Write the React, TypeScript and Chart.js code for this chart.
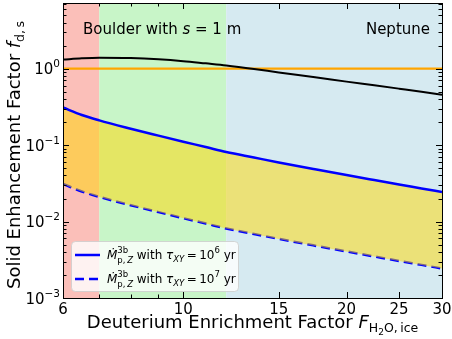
import React, { useEffect, useRef } from 'react';
import { Chart, registerables } from 'chart.js';

Chart.register(...registerables);

// ---------- data ----------
const xValues = [6, 6.5, 7, 8, 9, 10, 11, 12, 13.5, 15, 17.5, 20, 22.5, 25, 27.5, 30];
const totalEnhancement = [1.31, 1.36, 1.385, 1.37, 1.32, 1.25, 1.17, 1.1, 0.99, 0.89, 0.77, 0.675, 0.604, 0.546, 0.498, 0.456];
const unityLine = [1, 1, 1, 1, 1, 1, 1, 1, 1, 1, 1, 1, 1, 1, 1, 1];
const accretionTau6 = [0.31, 0.247, 0.21, 0.1635, 0.1328, 0.1106, 0.0942, 0.081, 0.0687, 0.0593, 0.0483, 0.0406, 0.0349, 0.0305, 0.0271, 0.0243];
const accretionTau7 = [0.031, 0.0247, 0.021, 0.01635, 0.01328, 0.01106, 0.00942, 0.0081, 0.00687, 0.00593, 0.00483, 0.00406, 0.00349, 0.00305, 0.00271, 0.00243];

const xMajorTicks = [6, 10, 15, 20, 25, 30];
const xMinorTicks = [7, 8, 9];
const yMajorExponents = [-3, -2, -1, 0];
const regionBounds = [6, 7, 12, 30];
const regionColors = ['#fbbfb9', '#c8f5c8', '#d6eaf1'];

const FONT = '"DejaVu Sans"';

type Seg = { t?: string; size?: number; italic?: boolean; dy?: number; stack?: Seg[][] };

function setFont(ctx: CanvasRenderingContext2D, s: Seg) {
  ctx.font = `${s.italic ? 'italic ' : ''}${s.size}px ${FONT}`;
}
function runW(ctx: CanvasRenderingContext2D, segs: Seg[]): number {
  return segs.reduce((a, s) => a + segW(ctx, s), 0);
}
function segW(ctx: CanvasRenderingContext2D, s: Seg): number {
  if (s.stack) return Math.max(...s.stack.map((r) => runW(ctx, r)));
  setFont(ctx, s);
  return ctx.measureText(s.t || '').width;
}
function drawRun(ctx: CanvasRenderingContext2D, segs: Seg[], x: number, y: number) {
  let cx = x;
  for (const s of segs) {
    if (s.stack) {
      for (const r of s.stack) drawRun(ctx, r, cx, y);
      cx += segW(ctx, s);
    } else {
      setFont(ctx, s);
      ctx.fillText(s.t || '', cx, y + (s.dy || 0));
      cx += ctx.measureText(s.t || '').width;
    }
  }
}
function drawRich(ctx: CanvasRenderingContext2D, segs: Seg[], x: number, y: number, align: 'left' | 'center' | 'right') {
  const w = runW(ctx, segs);
  const cx = align === 'left' ? x : align === 'center' ? x - w / 2 : x - w;
  ctx.textAlign = 'left';
  ctx.textBaseline = 'alphabetic';
  drawRun(ctx, segs, cx, y);
}

const decorPlugin = {
  id: 'decor',
  beforeDatasetsDraw(chart: any) {
    const { ctx, chartArea: a, scales } = chart;
    const xs = scales.x;
    ctx.save();
    for (let i = 0; i < regionColors.length; i++) {
      const x0 = xs.getPixelForValue(regionBounds[i]);
      const x1 = xs.getPixelForValue(regionBounds[i + 1]);
      ctx.fillStyle = regionColors[i];
      ctx.fillRect(x0, a.top, x1 - x0, a.bottom - a.top);
    }
    ctx.restore();
  },
  afterDraw(chart: any) {
    const { ctx, chartArea: a, scales } = chart;
    const xs = scales.x;
    const ys = scales.y;
    ctx.save();
    ctx.strokeStyle = '#000';
    ctx.fillStyle = '#000';
    ctx.lineWidth = 1;
    const MAJ = 6;
    const MIN = 3.5;
    const tick = (x0: number, y0: number, x1: number, y1: number) => {
      ctx.beginPath();
      ctx.moveTo(x0, y0);
      ctx.lineTo(x1, y1);
      ctx.stroke();
    };
    for (const v of xMajorTicks) {
      const px = Math.round(xs.getPixelForValue(v)) + 0.5;
      tick(px, a.bottom, px, a.bottom - MAJ);
      tick(px, a.top, px, a.top + MAJ);
    }
    for (const v of xMinorTicks) {
      const px = Math.round(xs.getPixelForValue(v)) + 0.5;
      tick(px, a.bottom, px, a.bottom - MIN);
      tick(px, a.top, px, a.top + MIN);
    }
    const ymax = ys.max;
    for (const e of yMajorExponents) {
      const py = Math.round(ys.getPixelForValue(Math.pow(10, e))) + 0.5;
      tick(a.left, py, a.left + MAJ, py);
      tick(a.right, py, a.right - MAJ, py);
      for (let m = 2; m <= 9; m++) {
        const v = m * Math.pow(10, e);
        if (v > ymax) break;
        const pm = Math.round(ys.getPixelForValue(v)) + 0.5;
        tick(a.left, pm, a.left + MIN, pm);
        tick(a.right, pm, a.right - MIN, pm);
      }
    }
    ctx.strokeRect(Math.round(a.left) + 0.5, Math.round(a.top) + 0.5, Math.round(a.right - a.left), Math.round(a.bottom - a.top));

    // x tick labels
    for (const v of xMajorTicks) {
      drawRich(ctx, [{ t: String(v), size: 15 }], xs.getPixelForValue(v), a.bottom + 15.5, 'center');
    }
    // y tick labels
    for (const e of yMajorExponents) {
      const py = ys.getPixelForValue(Math.pow(10, e));
      const ex = e < 0 ? '\u2212' + Math.abs(e) : String(e);
      drawRich(ctx, [{ t: '10', size: 15 }, { t: ex, size: 10.5, dy: -7 }], a.left - 3, py + 5.5, 'right');
    }

    // axis titles
    drawRich(
      ctx,
      [
        { t: 'Deuterium Enrichment Factor ', size: 18 },
        { t: 'F', size: 18, italic: true },
        { t: 'H', size: 12.5, dy: 4 },
        { t: '2', size: 9, dy: 6.5 },
        { t: 'O,\u2009ice', size: 12.5, dy: 4 },
      ],
      (a.left + a.right) / 2,
      328,
      'center'
    );
    ctx.save();
    ctx.translate(20, 155);
    ctx.rotate(-Math.PI / 2);
    drawRich(
      ctx,
      [
        { t: 'Solid Enhancement Factor ', size: 18 },
        { t: 'f', size: 18, italic: true },
        { t: 'd,\u2009s', size: 12.5, dy: 4 },
      ],
      0,
      0,
      'center'
    );
    ctx.restore();

    // region annotations
    drawRich(
      ctx,
      [
        { t: 'Boulder with ', size: 15 },
        { t: 's', size: 15, italic: true },
        { t: ' = 1 m', size: 15 },
      ],
      83,
      34,
      'left'
    );
    drawRich(ctx, [{ t: 'Neptune', size: 15 }], 430, 34, 'right');

    // legend
    const lx = 71.5, ly = 241.5, lw = 167, lh = 50, r = 4;
    ctx.beginPath();
    ctx.moveTo(lx + r, ly);
    ctx.arcTo(lx + lw, ly, lx + lw, ly + lh, r);
    ctx.arcTo(lx + lw, ly + lh, lx, ly + lh, r);
    ctx.arcTo(lx, ly + lh, lx, ly, r);
    ctx.arcTo(lx, ly, lx + lw, ly, r);
    ctx.closePath();
    ctx.fillStyle = 'rgba(255,255,255,0.8)';
    ctx.fill();
    ctx.strokeStyle = 'rgba(204,204,204,0.8)';
    ctx.lineWidth = 1;
    ctx.stroke();

    const rows = [
      { y: 255, dash: [] as number[], exp: '6' },
      { y: 279, dash: [9, 5], exp: '7' },
    ];
    for (const row of rows) {
      ctx.strokeStyle = '#0000ff';
      ctx.lineWidth = 2.5;
      ctx.setLineDash(row.dash);
      ctx.beginPath();
      ctx.moveTo(75, row.y);
      ctx.lineTo(100, row.y);
      ctx.stroke();
      ctx.setLineDash([]);
      ctx.fillStyle = '#000';
      drawRich(
        ctx,
        [
          { t: '\u1E40', size: 12, italic: true },
          {
            stack: [
              [{ t: '3b', size: 8.5, dy: -6 }],
              [
                { t: 'p,\u2009', size: 8.5, dy: 3.5 },
                { t: 'Z', size: 8.5, italic: true, dy: 3.5 },
              ],
            ],
          },
          { t: ' with ', size: 12 },
          { t: '\u03C4', size: 12, italic: true },
          { t: 'XY', size: 8.5, italic: true, dy: 3 },
          { t: '\u2009=\u200910', size: 12 },
          { t: row.exp, size: 8.5, dy: -6 },
          { t: ' yr', size: 12 },
        ],
        107,
        row.y + 4,
        'left'
      );
    }
    ctx.restore();
  },
};

export default function App() {
  const ref = useRef<HTMLCanvasElement | null>(null);
  useEffect(() => {
    if (!ref.current) return;
    const pts = (ys: number[]) => xValues.map((x, i) => ({ x, y: ys[i] }));
    const chart = new Chart(ref.current, {
      type: 'line',
      data: {
        datasets: [
          {
            data: pts(totalEnhancement),
            borderColor: '#000000',
            borderWidth: 2,
            pointRadius: 0,
            fill: false,
            cubicInterpolationMode: 'monotone',
          },
          {
            data: pts(unityLine),
            borderColor: '#ffa500',
            borderWidth: 2.2,
            pointRadius: 0,
            fill: false,
          },
          {
            data: pts(accretionTau6),
            borderColor: '#0000ff',
            borderWidth: 2.5,
            pointRadius: 0,
            fill: '+1',
            backgroundColor: 'rgba(255,215,0,0.5)',
            cubicInterpolationMode: 'monotone',
          },
          {
            data: pts(accretionTau7),
            borderColor: '#0000ff',
            borderWidth: 2.5,
            borderDash: [9, 5],
            pointRadius: 0,
            fill: false,
            cubicInterpolationMode: 'monotone',
          },
        ],
      } as any,
      options: {
        animation: false,
        responsive: false,
        maintainAspectRatio: false,
        devicePixelRatio: 1,
        layout: { padding: { left: 63, right: 10, top: 3, bottom: 41 } },
        plugins: { legend: { display: false }, tooltip: { enabled: false } },
        scales: {
          x: { type: 'logarithmic', min: 6, max: 30, display: false },
          y: { type: 'logarithmic', min: 1e-3, max: 7.2, display: false },
        },
      } as any,
      plugins: [decorPlugin],
    });
    return () => chart.destroy();
  }, []);
  return (
    <div style={{ position: 'absolute', left: 0, top: 0, width: 452, height: 339, background: '#fff' }}>
      <canvas ref={ref} width={452} height={339} style={{ width: 452, height: 339, display: 'block' }} />
    </div>
  );
}
